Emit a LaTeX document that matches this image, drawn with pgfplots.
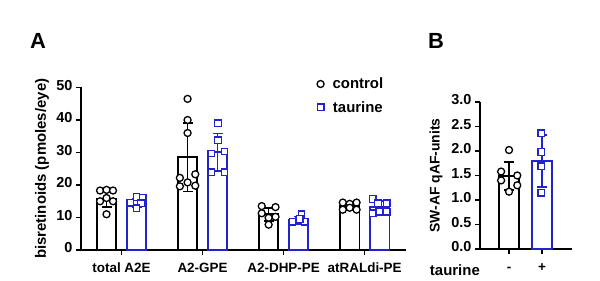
\documentclass[border=0pt]{standalone}
\usepackage{fontspec}
\setmainfont{Liberation Sans}
\usepackage{pgfplots}
\pgfplotsset{compat=1.18}
\definecolor{tblue}{RGB}{35,35,205}
\begin{document}
\begin{tikzpicture}[x=1bp,y=1bp]
\path[use as bounding box] (0,0) rectangle (600,280);
\pgfplotsset{
  prism/.style={
    scale only axis,
    axis lines=left,
    axis line style={-, line width=1.7bp},
    tick align=outside,
    major tick length=5bp,
    tick style={line width=1.6bp, black},
    ymin=0,
    tick label style={font=\bfseries\fontsize{13.5}{14}\selectfont},
    yticklabel style={font=\bfseries\fontsize{14.5}{15}\selectfont},
    typeset ticklabels with strut,
    xticklabel style={yshift=-4bp},
    /pgf/number format/assume math mode=true,
    clip=false,
  },
  cbar/.style={ybar, bar width=19.5bp, bar shift=0bp, draw=black, fill=white, line width=1.8bp,
    /pgfplots/error bars/y dir=both, /pgfplots/error bars/y explicit,
    /pgfplots/error bars/error bar style={line width=1.6bp, black},
    /pgfplots/error bars/error mark options={rotate=90, mark size=5bp, line width=1.6bp, black}},
  tbar/.style={ybar, bar width=19.5bp, bar shift=0bp, draw=tblue, fill=white, line width=1.8bp,
    /pgfplots/error bars/y dir=both, /pgfplots/error bars/y explicit,
    /pgfplots/error bars/error bar style={line width=1.6bp, tblue},
    /pgfplots/error bars/error mark options={rotate=90, mark size=5bp, line width=1.6bp, tblue}},
  cpts/.style={only marks, mark=*, mark size=3.5bp, mark options={fill=white, draw=black, line width=1.3bp}},
  tpts/.style={only marks, mark=square*, mark size=3.3bp, mark options={fill=white, draw=tblue, line width=1.3bp}},
}
\begin{axis}[prism,
  at={(81bp,30bp)}, anchor=south west,
  width=325bp, height=162.5bp,
  xmin=-0.5, xmax=3.51, ymax=50,
  ytick={0,10,...,50},
  xtick={0,1,2,3},
  xticklabels={total A2E, A2-GPE, A2-DHP-PE, atRALdi-PE},
  ylabel={bisretinoids (pmoles/eye)},
  every axis y label/.style={at={(axis description cs:0,0.5)}, xshift=-39bp, rotate=90, anchor=center, font=\bfseries\fontsize{15}{15}\selectfont},
  legend style={at={(axis description cs:0.715,1.085)}, anchor=north west, draw=none, fill=none, font=\bfseries\fontsize{15}{15}\selectfont, row sep=7bp},
  legend image code/.code={\draw[#1] plot coordinates {(4bp,0bp)}; \path[draw=none, fill=none] (0bp,0bp) -- (14bp,0bp);},
]
\addlegendimage{cpts}
\addlegendentry{control}
\addlegendimage{tpts}
\addlegendentry{taurine}

\addplot[cbar, forget plot] coordinates {
  (-0.185,15.8) +- (0,2.5)
  (0.815,28.5) +- (0,10.5)
  (1.815,11.0) +- (0,2.0)
  (2.815,13.5) +- (0,1.1)};
\addplot[tbar, forget plot] coordinates {
  (0.185,14.6) +- (0,1.3)
  (1.185,30.1) +- (0,5.7)
  (2.185,9.3) +- (0,1.0)
  (3.185,13.2) +- (0,1.8)};

\addplot[cpts, forget plot] coordinates {
  (-0.265,18.3) (-0.185,18.5) (-0.105,18.3)
  (-0.265,15.0) (-0.185,16.0) (-0.105,15.0) (-0.185,11.0)
  (0.815,46.5) (0.815,40.0) (0.815,36.0)
  (0.72,22.2) (0.91,23.3) (0.72,19.6) (0.91,19.8) (0.815,20.8)
  (1.73,13.5) (1.90,13.2) (1.73,11.3) (1.90,10.2) (1.815,9.9) (1.815,7.8)
  (2.73,14.6) (2.815,14.2) (2.90,14.6) (2.73,12.4) (2.815,13.0) (2.90,12.4)};
\addplot[tpts, forget plot] coordinates {
  (0.185,16.3) (0.26,16.0) (0.11,14.6) (0.185,14.2) (0.24,14.4) (0.185,12.8)
  (1.19,39.0) (1.19,33.8) (1.107,29.7) (1.27,30.3) (1.107,23.9) (1.27,23.9)
  (2.22,11.0) (2.11,8.7) (2.185,9.0) (2.26,8.7) (2.20,9.5)
  (3.10,15.7) (3.165,14.4) (3.27,14.4) (3.10,11.3) (3.18,11.8) (3.27,11.8)};
\end{axis}

\begin{axis}[prism,
  at={(480bp,31bp)}, anchor=south west,
  width=92bp, height=147bp,
  xmin=-0.88, xmax=1.91, ymax=3,
  ytick={0,0.5,1,1.5,2,2.5,3},
  yticklabel style={/pgf/number format/.cd, fixed, fixed zerofill, precision=1},
  xtick={0,1},
  xticklabels={-,+},
  ylabel={SW-AF qAF-units},
  every axis y label/.style={at={(axis description cs:0,0.5)}, xshift=-44bp, rotate=90, anchor=center, font=\bfseries\fontsize{14}{14}\selectfont},
]
\addplot[cbar, bar width=20bp] coordinates {(0,1.49) +- (0,0.29)};
\addplot[tbar, bar width=20.5bp] coordinates {(1,1.80) +- (0,0.53)};
\addplot[cpts] coordinates {
  (0,2.02) (-0.24,1.58) (0.25,1.50) (-0.24,1.40) (0.25,1.30) (0,1.17)};
\addplot[tpts] coordinates {
  (0.98,2.36) (0.98,1.98) (0.98,1.69) (0.98,1.15)};
\end{axis}

\node[anchor=base east, inner sep=0, font=\bfseries\fontsize{15}{15}\selectfont] at (480,5) {taurine};
\node[anchor=base west, inner sep=0, font=\bfseries\fontsize{22}{22}\selectfont] at (30,232) {A};
\node[anchor=base west, inner sep=0, font=\bfseries\fontsize{22}{22}\selectfont] at (428,232) {B};
\end{tikzpicture}
\end{document}
